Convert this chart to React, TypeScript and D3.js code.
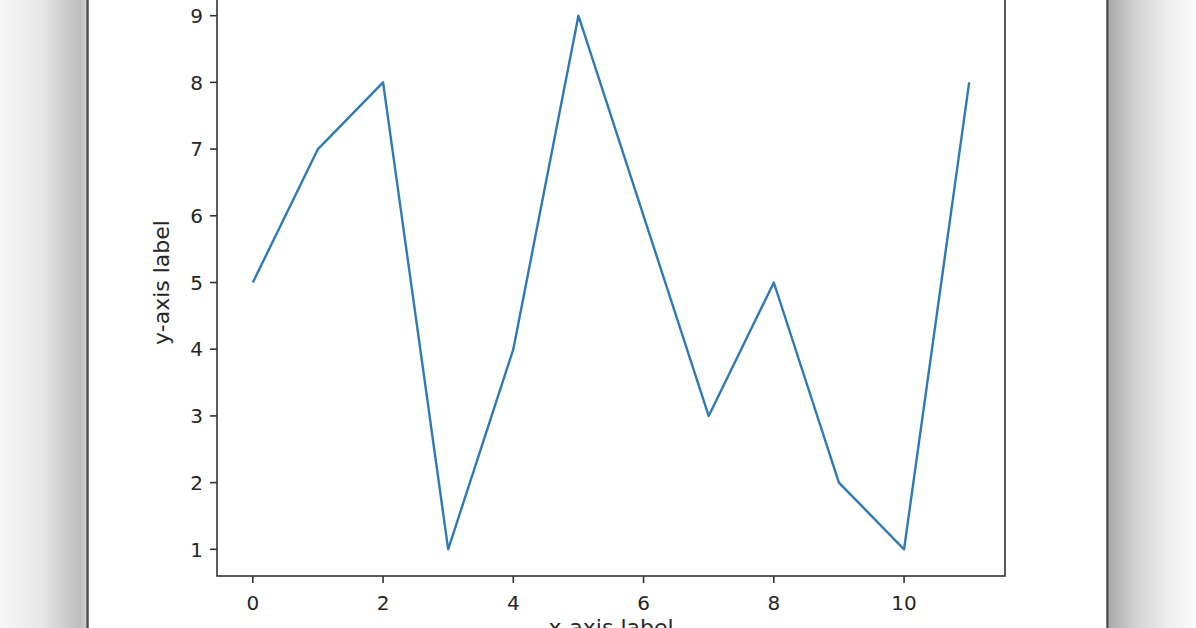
import * as d3 from "d3";

// series (x = 0..11)
const xValues = [0, 1, 2, 3, 4, 5, 6, 7, 8, 9, 10, 11];
const yValues = [5, 7, 8, 1, 4, 9, 6, 3, 5, 2, 1, 8];
const xTicks = [0, 2, 4, 6, 8, 10];
const yTicks = [1, 2, 3, 4, 5, 6, 7, 8, 9];
const xLabel = "x-axis label";
const yLabel = "y-axis label";

const W = 1196;
const H = 628;
const plot = { left: 217, right: 1005, top: -11, bottom: 576 };
const font = "'DejaVu Sans', sans-serif";
const textColor = "#262626";

export default function App() {
  // matplotlib-style 5% margins around the data
  const x = d3.scaleLinear().domain([-0.55, 11.55]).range([plot.left, plot.right]);
  const y = d3.scaleLinear().domain([0.6, 9.4]).range([plot.bottom, plot.top]);

  const line = d3
    .line<number>()
    .x((_, i) => x(xValues[i]))
    .y((d) => y(d));

  const midY = (plot.top + plot.bottom) / 2;
  const midX = (plot.left + plot.right) / 2;

  return (
    <svg
      width={W}
      height={H}
      style={{ position: "fixed", left: 0, top: 0, background: "#fff" }}
      fontFamily={font}
    >
      <defs>
        <linearGradient id="shadowL" x1="0" x2="1" y1="0" y2="0">
          <stop offset="0" stopColor="#f7f7f7" />
          <stop offset="0.5" stopColor="#e6e6e6" />
          <stop offset="0.93" stopColor="#bdbdbd" />
          <stop offset="1" stopColor="#d0d0d0" />
        </linearGradient>
        <linearGradient id="shadowR" x1="0" x2="1" y1="0" y2="0">
          <stop offset="0" stopColor="#a9a9a9" />
          <stop offset="0.3" stopColor="#d2d2d2" />
          <stop offset="0.7" stopColor="#efefef" />
          <stop offset="1" stopColor="#fbfbfb" />
        </linearGradient>
      </defs>

      {/* window shadow and frame */}
      <rect x={0} y={0} width={86} height={H} fill="url(#shadowL)" />
      <rect x={1109} y={0} width={W - 1109} height={H} fill="url(#shadowR)" />
      <line x1={87.5} x2={87.5} y1={0} y2={H} stroke="#4d4d4d" strokeWidth={2.5} />
      <line x1={1107.5} x2={1107.5} y1={0} y2={H} stroke="#4d4d4d" strokeWidth={2.5} />

      {/* axes box */}
      <rect
        x={plot.left}
        y={plot.top}
        width={plot.right - plot.left}
        height={plot.bottom - plot.top}
        fill="none"
        stroke="#333"
        strokeWidth={1.6}
      />

      {/* x ticks */}
      {xTicks.map((t) => (
        <g key={`x${t}`}>
          <line x1={x(t)} x2={x(t)} y1={plot.bottom} y2={plot.bottom + 7} stroke="#333" strokeWidth={1.6} />
          <text x={x(t)} y={610} textAnchor="middle" fontSize={20} fill={textColor}>
            {t}
          </text>
        </g>
      ))}

      {/* y ticks */}
      {yTicks.map((t) => (
        <g key={`y${t}`}>
          <line x1={plot.left - 7} x2={plot.left} y1={y(t)} y2={y(t)} stroke="#333" strokeWidth={1.6} />
          <text x={203} y={y(t)} dy="0.36em" textAnchor="end" fontSize={20} fill={textColor}>
            {t}
          </text>
        </g>
      ))}

      {/* axis labels (x label is clipped by the bottom edge, as in the screenshot) */}
      <text x={midX} y={635} textAnchor="middle" fontSize={22} fill={textColor}>
        {xLabel}
      </text>
      <text
        transform={`translate(169,${midY}) rotate(-90)`}
        textAnchor="middle"
        fontSize={22}
        fill={textColor}
      >
        {yLabel}
      </text>

      {/* data line */}
      <path d={line(yValues) ?? ""} fill="none" stroke="#2f7ab4" strokeWidth={2.4} strokeLinejoin="round" />
    </svg>
  );
}
